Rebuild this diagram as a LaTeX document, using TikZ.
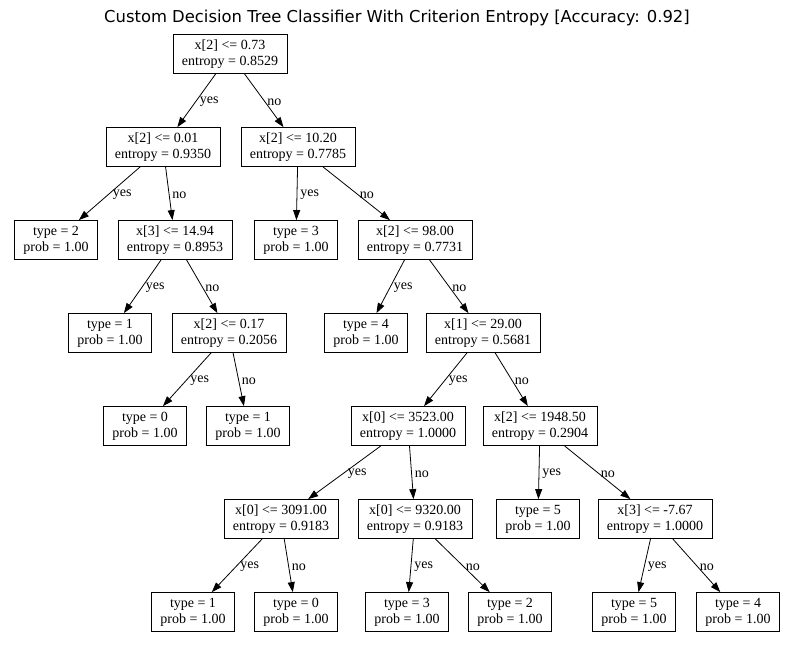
\documentclass[tikz,border=0pt]{standalone}
\usepackage{fontspec}
\setmainfont{Liberation Serif}
\newfontfamily\titlefont{DejaVu Sans}
\usetikzlibrary{arrows.meta}
\begin{document}
\begin{tikzpicture}[x=1pt,y=-1pt,
	box/.style={draw, line width=0.8pt, align=center, inner xsep=9pt, inner ysep=0pt,
		minimum height=39pt, font=\fontsize{14}{16}\selectfont},
	branch/.style={-{Triangle[length=10pt,width=7pt]}, line width=0.8pt},
	lbl/.style={right, midway, inner sep=3pt, yshift=-1.5pt, font=\fontsize{14}{16}\selectfont}]
	\useasboundingbox (0,0) rectangle (794,646);
	\node (t) at (397,18) {\titlefont\fontsize{16.4}{18}\selectfont Custom Decision Tree Classifier With Criterion Entropy [Accuracy: 0.92]};

	\node[box] (1) at (230,54) {x[2] <= 0.73\\entropy = 0.8529};
	\node[box] (2) at (163,147) {x[2] <= 0.01\\entropy = 0.9350};
	\node[box] (3) at (298,147) {x[2] <= 10.20\\entropy = 0.7785};
	\node[box] (4) at (56,240) {type = 2\\prob = 1.00};
	\node[box] (5) at (175,240) {x[3] <= 14.94\\entropy = 0.8953};
	\node[box] (6) at (296,240) {type = 3\\prob = 1.00};
	\node[box] (7) at (415,240) {x[2] <= 98.00\\entropy = 0.7731};
	\node[box] (8) at (110,333) {type = 1\\prob = 1.00};
	\node[box] (9) at (229,333) {x[2] <= 0.17\\entropy = 0.2056};
	\node[box] (10) at (366,333) {type = 4\\prob = 1.00};
	\node[box] (11) at (483,333) {x[1] <= 29.00\\entropy = 0.5681};
	\node[box] (12) at (145,426) {type = 0\\prob = 1.00};
	\node[box] (13) at (248,426) {type = 1\\prob = 1.00};
	\node[box] (14) at (408,426) {x[0] <= 3523.00\\entropy = 1.0000};
	\node[box] (15) at (540,426) {x[2] <= 1948.50\\entropy = 0.2904};
	\node[box] (16) at (281,519) {x[0] <= 3091.00\\entropy = 0.9183};
	\node[box] (17) at (415,519) {x[0] <= 9320.00\\entropy = 0.9183};
	\node[box] (18) at (538,519) {type = 5\\prob = 1.00};
	\node[box] (19) at (655,519) {x[3] <= -7.67\\entropy = 1.0000};
	\node[box] (20) at (193,612) {type = 1\\prob = 1.00};
	\node[box] (21) at (296,612) {type = 0\\prob = 1.00};
	\node[box] (22) at (407,612) {type = 3\\prob = 1.00};
	\node[box] (23) at (510,612) {type = 2\\prob = 1.00};
	\node[box] (24) at (634,612) {type = 5\\prob = 1.00};
	\node[box] (25) at (738,612) {type = 4\\prob = 1.00};

	\path [branch] (1) edge node[lbl] {yes} (2);
	\path [branch] (1) edge node[lbl] {no} (3);
	\path [branch] (2) edge node[lbl] {yes} (4);
	\path [branch] (2) edge node[lbl] {no} (5);
	\path [branch] (3) edge node[lbl] {yes} (6);
	\path [branch] (3) edge node[lbl] {no} (7);
	\path [branch] (5) edge node[lbl] {yes} (8);
	\path [branch] (5) edge node[lbl] {no} (9);
	\path [branch] (7) edge node[lbl] {yes} (10);
	\path [branch] (7) edge node[lbl] {no} (11);
	\path [branch] (9) edge node[lbl] {yes} (12);
	\path [branch] (9) edge node[lbl] {no} (13);
	\path [branch] (11) edge node[lbl] {yes} (14);
	\path [branch] (11) edge node[lbl] {no} (15);
	\path [branch] (14) edge node[lbl] {yes} (16);
	\path [branch] (14) edge node[lbl] {no} (17);
	\path [branch] (15) edge node[lbl] {yes} (18);
	\path [branch] (15) edge node[lbl] {no} (19);
	\path [branch] (16) edge node[lbl] {yes} (20);
	\path [branch] (16) edge node[lbl] {no} (21);
	\path [branch] (17) edge node[lbl] {yes} (22);
	\path [branch] (17) edge node[lbl] {no} (23);
	\path [branch] (19) edge node[lbl] {yes} (24);
	\path [branch] (19) edge node[lbl] {no} (25);
\end{tikzpicture}
\end{document}
